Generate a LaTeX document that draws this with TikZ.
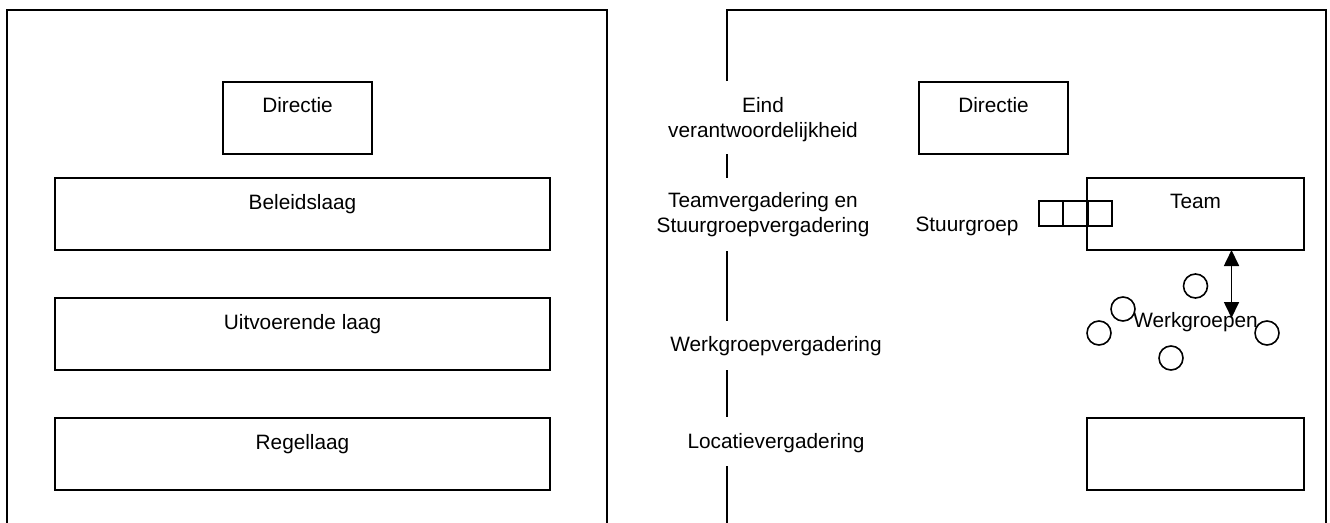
\documentclass[tikz,border=0pt]{standalone}
\usepackage{fontspec}
\setmainfont{Liberation Sans}
\usetikzlibrary{arrows.meta}
\begin{document}
\begin{tikzpicture}[x=1pt,y=-1pt,
  box/.style={draw,line width=1.7pt,anchor=north west,inner sep=0pt,outer sep=0pt},
  lbl/.style={anchor=base,inner sep=0pt,align=center,font=\fontsize{20.8}{25}\selectfont},
  frame/.style={line width=1.7pt},
  ring/.style={draw,circle,line width=1.6pt,minimum size=24pt,inner sep=0pt},
  dbl/.style={line width=1.7pt,{Triangle[width=15pt,length=16pt]}-{Triangle[width=15pt,length=16pt]}}]
\useasboundingbox (0,0) rectangle (1330,522);
% left panel
\draw[frame] (7,530) -- (7,10) -- (607,10) -- (607,530);
\node[box,minimum width=149pt,minimum height=72pt] (dirL) at (223,82) {};
\node[box,minimum width=495pt,minimum height=72pt] (bel) at (55,178) {};
\node[box,minimum width=495pt,minimum height=72pt] (uit) at (55,298) {};
\node[box,minimum width=495pt,minimum height=72pt] (reg) at (55,418) {};
\node[lbl] (tDirL) at (dirL.north |- 0,112) {Directie};
\node[lbl] (tBel) at (bel.north |- 0,209) {Beleidslaag};
\node[lbl] (tUit) at (uit.north |- 0,329) {Uitvoerende laag};
\node[lbl] (tReg) at (reg.north |- 0,449) {Regellaag};
% right panel
\draw[frame] (727,81) -- (727,10) -- (1326,10) -- (1326,530);
\draw[frame] (727,154) -- (727,178);
\draw[frame] (727,251) -- (727,321);
\draw[frame] (727,370) -- (727,417);
\draw[frame] (727,466) -- (727,530);
\node[lbl] (eind) at (763,137) {Eind\\verantwoordelijkheid};
\node[lbl] (tvg) at (763,232) {Teamvergadering en\\Stuurgroepvergadering};
\node[lbl] (wvg) at (776,351) {Werkgroepvergadering};
\node[lbl] (lvg) at (776,448) {Locatievergadering};
\node[box,minimum width=149pt,minimum height=72pt] (dirR) at (919,82) {};
\node[lbl] (tDirR) at (dirR.north |- 0,112) {Directie};
\node[box,minimum width=217pt,minimum height=72pt] (team) at (1087,178) {};
\node[lbl] (tTeam) at (team.north |- 0,208) {Team};
\node[box,minimum width=24pt,minimum height=25pt] (sg1) at (1039,201) {};
\node[box,minimum width=24.5pt,minimum height=25pt] (sg2) at (1063.5,201) {};
\node[box,minimum width=24pt,minimum height=25pt] (sg3) at (1088,201) {};
\node[lbl] (tSg) at (967,231) {Stuurgroep};
\node[box,minimum width=217pt,minimum height=72pt] (loc) at (1087,418) {};
% werkgroepen
\node[ring] (c1) at (1195.5,286) {};
\node[ring] (c2) at (1123,309) {};
\node[ring] (c3) at (1099,333) {};
\node[ring] (c4) at (1267,333) {};
\node[ring] (c5) at (1171,358) {};
\node[lbl] (tWg) at (1195.5,327) {Werkgroepen};
\coordinate (wgTop) at (1231.5,318);
\draw[dbl] (team.south -| wgTop) -- (wgTop);
\end{tikzpicture}
\end{document}
